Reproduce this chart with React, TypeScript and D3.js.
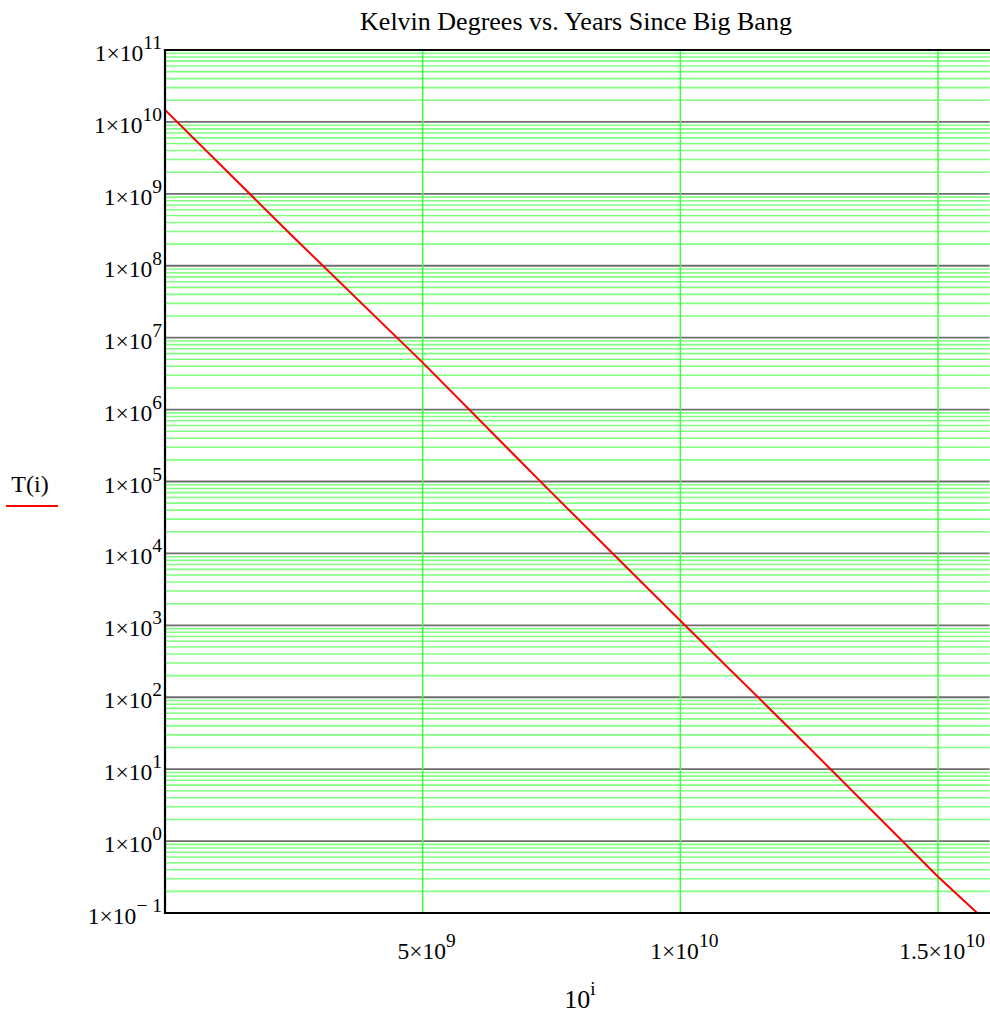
import React, { useRef, useEffect } from "react";
import { select, scaleLinear, scaleLog, line, range } from "d3";

// years since big bang (x) vs kelvin degrees (y)
const years = [0, 2.5e9, 5e9, 7.5e9, 1e10, 1.25e10, 1.5e10, 1.576e10];
const kelvin = [1.47e10, 2.47e8, 4.5e6, 7.0e4, 1.16e3, 19.8, 0.32, 0.1];

const yExponents = range(-1, 12); // -1 .. 11
const xTicks = [5e9, 1e10, 1.5e10];
const xMantissa = ["5", "1", "1.5"];
const xExponent = ["9", "10", "10"];

const W = 990;
const H = 1015;
const serif = "'Liberation Serif', 'Times New Roman', serif";

const App = () => {
  const svgRef = useRef<SVGSVGElement>(null);

  useEffect(() => {
    const svg = select(svgRef.current);
    svg.selectAll("*").remove();

    const left = 165;
    const top = 50;
    const bottom = 913;
    const right = 989.6;

    const xScale = scaleLinear().domain([0, 1.6e10]).range([left, right]);
    const yScale = scaleLog().domain([1e-1, 1e11]).range([bottom, top]);

    svg
      .append("defs")
      .append("clipPath")
      .attr("id", "plotClip")
      .append("rect")
      .attr("x", left)
      .attr("y", top)
      .attr("width", right - left)
      .attr("height", bottom - top);

    // minor green grid lines 2..9 in each decade
    const minors: number[] = [];
    yExponents.slice(0, -1).forEach((e) => {
      for (let m = 2; m <= 9; m++) minors.push(m * Math.pow(10, e));
    });
    svg
      .append("g")
      .selectAll("line")
      .data(minors)
      .join("line")
      .attr("x1", left)
      .attr("x2", right)
      .attr("y1", (d) => yScale(d))
      .attr("y2", (d) => yScale(d))
      .attr("stroke", "#80ff80")
      .attr("stroke-width", 1.6);

    // decade lines in gray
    svg
      .append("g")
      .selectAll("line")
      .data(yExponents.slice(1, -1))
      .join("line")
      .attr("x1", left)
      .attr("x2", right)
      .attr("y1", (e) => yScale(Math.pow(10, e)))
      .attr("y2", (e) => yScale(Math.pow(10, e)))
      .attr("stroke", "#6e6e6e")
      .attr("stroke-width", 1.8);

    // vertical green grid
    svg
      .append("g")
      .selectAll("line")
      .data(xTicks)
      .join("line")
      .attr("x1", (d) => xScale(d))
      .attr("x2", (d) => xScale(d))
      .attr("y1", top)
      .attr("y2", bottom)
      .attr("stroke", "#40ff40")
      .attr("stroke-width", 1.5);

    // the data line
    const path = line<number>()
      .x((d, i) => xScale(years[i]))
      .y((d) => yScale(d));
    svg
      .append("path")
      .attr("d", path(kelvin))
      .attr("clip-path", "url(#plotClip)")
      .attr("fill", "none")
      .attr("stroke", "#ff0000")
      .attr("stroke-width", 2);

    // frame (left, top, bottom)
    svg
      .append("path")
      .attr("d", `M${right + 2},${top} H${left} V${bottom} H${right + 2}`)
      .attr("fill", "none")
      .attr("stroke", "#000")
      .attr("stroke-width", 2.2);

    // y tick labels
    const yLabels = svg
      .append("g")
      .selectAll("text")
      .data(yExponents)
      .join("text")
      .attr("x", 162)
      .attr("y", (e) => yScale(Math.pow(10, e)) + 11)
      .attr("text-anchor", "end")
      .attr("font-family", serif)
      .attr("font-size", 23.5)
      .attr("fill", "#000");
    yLabels.append("tspan").text("1×10");
    yLabels
      .append("tspan")
      .attr("dy", -12)
      .attr("font-size", 19.5)
      .text((e) => (e < 0 ? "− " + Math.abs(e) : String(e)));

    // x tick labels
    const xLabels = svg
      .append("g")
      .selectAll("text")
      .data(xTicks)
      .join("text")
      .attr("x", (d) => xScale(d) + 4)
      .attr("y", 959)
      .attr("text-anchor", "middle")
      .attr("font-family", serif)
      .attr("font-size", 23.5)
      .attr("fill", "#000");
    xLabels.append("tspan").text((d, i) => xMantissa[i] + "×10");
    xLabels
      .append("tspan")
      .attr("dy", -12)
      .attr("font-size", 19.5)
      .text((d, i) => xExponent[i]);

    // title
    svg
      .append("text")
      .attr("x", 576)
      .attr("y", 30)
      .attr("text-anchor", "middle")
      .attr("font-family", serif)
      .attr("font-size", 26)
      .text("Kelvin Degrees vs. Years Since Big Bang");

    // x axis label
    const xl = svg
      .append("text")
      .attr("x", 580)
      .attr("y", 1008)
      .attr("text-anchor", "middle")
      .attr("font-family", serif)
      .attr("font-size", 26);
    xl.append("tspan").text("10");
    xl.append("tspan").attr("dy", -13).attr("font-size", 19).text("i");

    // legend on the left
    svg
      .append("text")
      .attr("x", 30)
      .attr("y", 492)
      .attr("text-anchor", "middle")
      .attr("font-family", serif)
      .attr("font-size", 24)
      .text("T(i)");
    svg
      .append("line")
      .attr("x1", 6)
      .attr("x2", 58)
      .attr("y1", 506)
      .attr("y2", 506)
      .attr("stroke", "#ff0000")
      .attr("stroke-width", 2);
  }, []);

  return (
    <svg
      ref={svgRef}
      width={W}
      height={H}
      style={{ position: "absolute", left: 0, top: 0, background: "#fff" }}
    />
  );
};

export default App;
